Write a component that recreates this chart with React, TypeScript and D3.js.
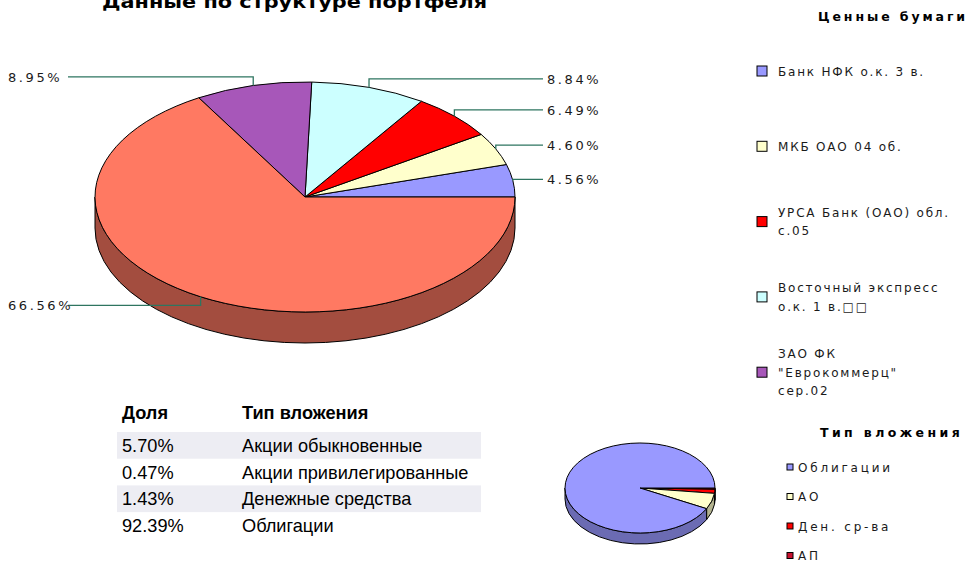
import React from "react";
import * as d3 from "d3";

// Ценные бумаги (main pie)
const secLegend = [
  ["Банк НФК о.к. 3 в."],
  ["МКБ ОАО 04 об."],
  ["УРСА Банк (ОАО) обл.", "с.05"],
  ["Восточный экспресс", "о.к. 1 в.□□"],
  ["ЗАО ФК", "\"Еврокоммерц\"", "сер.02"],
];
const secShares = [4.56, 4.6, 6.49, 8.84, 8.95, 66.56];
const secColors = ["#9999ff", "#ffffcc", "#ff0000", "#ccffff", "#a757b9", "#ff7962"];

// Тип вложения (small pie + legend)
const typeLegend = ["Облигации", "АО", "Ден. ср-ва", "АП"];
const typeShares = [92.39, 5.7, 1.43, 0.47];
const typeColors = ["#9999ff", "#ffffcc", "#ff0000", "#c8102e"];

// table
const tableHead = ["Доля", "Тип вложения"];
const tableTypes = ["Акции обыкновенные", "Акции привилегированные", "Денежные средства", "Облигации"];
const tableShares = [5.7, 0.47, 1.43, 92.39];

const W = 977;
const H = 572;
const LEADER = "#2e7560";

type Slice = { a0: number; a1: number; color: string; value: number };

const pt = (cx: number, cy: number, rx: number, ry: number, a: number) =>
  [cx + rx * Math.cos(a), cy + ry * Math.sin(a)];

const topPath = (cx: number, cy: number, rx: number, ry: number, s: Slice) => {
  const p0 = pt(cx, cy, rx, ry, s.a0);
  const p1 = pt(cx, cy, rx, ry, s.a1);
  const large = s.a1 - s.a0 > Math.PI ? 1 : 0;
  return `M${cx},${cy}L${p0[0]},${p0[1]}A${rx},${ry} 0 ${large} 1 ${p1[0]},${p1[1]}Z`;
};

// parts of a slice that show on the front rim (screen angles 0..PI)
const frontParts = (s: Slice) => {
  const out: [number, number][] = [];
  for (const k of [-2 * Math.PI, 0, 2 * Math.PI]) {
    const a = Math.max(s.a0 + k, 0);
    const b = Math.min(s.a1 + k, Math.PI);
    if (b > a) out.push([a, b]);
  }
  return out;
};

const sidePath = (cx: number, cy: number, rx: number, ry: number, depth: number, a: number, b: number) => {
  const p0 = pt(cx, cy, rx, ry, a);
  const p1 = pt(cx, cy, rx, ry, b);
  return `M${p0[0]},${p0[1]}A${rx},${ry} 0 0 1 ${p1[0]},${p1[1]}L${p1[0]},${p1[1] + depth}A${rx},${ry} 0 0 0 ${p0[0]},${p0[1] + depth}Z`;
};

const darker = (c: string, k: number) => d3.color(c)!.darker(k).formatHex();

const Pie3D = ({ cx, cy, rx, ry, depth, slices, dark }: {
  cx: number; cy: number; rx: number; ry: number; depth: number; slices: Slice[]; dark: number;
}) => (
  <g stroke="#000" strokeWidth={1}>
    {slices.map((s, i) =>
      frontParts(s).map(([a, b], j) => (
        <path key={`s${i}-${j}`} d={sidePath(cx, cy, rx, ry, depth, a, b)} fill={darker(s.color, dark)} />
      ))
    )}
    {slices.map((s, i) => (
      <path key={`t${i}`} d={topPath(cx, cy, rx, ry, s)} fill={s.color} />
    ))}
  </g>
);

export default function App() {
  const pie = d3.pie<number>().sort(null).value((d) => d);

  // main pie: counter-clockwise on screen from 3 o'clock
  const main = { cx: 305, cy: 197, rx: 210, ry: 115, depth: 31 };
  const mainSlices: Slice[] = pie(secShares).map((d, i) => ({
    a0: -d.endAngle,
    a1: -d.startAngle,
    color: secColors[i],
    value: d.data,
  }));

  // small pie: clockwise from 3 o'clock, last type first
  const small = { cx: 640, cy: 488, rx: 75, ry: 45, depth: 11 };
  const revShares = typeShares.slice().reverse();
  const revColors = typeColors.slice().reverse();
  const smallSlices: Slice[] = pie(revShares).map((d, i) => ({
    a0: d.startAngle,
    a1: d.endAngle,
    color: revColors[i],
    value: d.data,
  }));

  const labels = mainSlices.map((s, i) => {
    const m = (s.a0 + s.a1) / 2;
    const [px, py] = pt(main.cx, main.cy, main.rx, main.ry, m);
    const up = Math.sin(m) < 0;
    const ly = py + (up ? -9 : 10) * Math.abs(Math.sin(m));
    const right = Math.cos(m) > 0;
    const ex = right ? 543 : 68;
    return (
      <g key={`l${i}`}>
        <polyline points={`${px},${py} ${px},${ly} ${ex},${ly}`} fill="none" stroke={LEADER} strokeWidth={1.3} />
        <text x={right ? 547 : 8} y={ly + 5} fontSize={13} letterSpacing={2.6} fill="#1a1a1a">
          {s.value.toFixed(2)}%
        </text>
      </g>
    );
  });

  const rowH = 26.7;
  const rowY0 = 432;

  return (
    <svg width={W} height={H} style={{ position: "absolute", left: 0, top: 0, background: "#fff" }}
      fontFamily="DejaVu Sans">
      <defs>
        <clipPath id="legclip">
          <rect x={700} y={0} width={277} height={397} />
        </clipPath>
      </defs>

      <text x={102} y={8} fontSize={18} fontWeight="bold" fontFamily="DejaVu Sans" textLength={385}
        lengthAdjust="spacingAndGlyphs">
        Данные по структуре портфеля
      </text>

      <Pie3D {...main} slices={mainSlices} dark={1.25} />
      {labels}

      {/* legend: ценные бумаги */}
      <g clipPath="url(#legclip)">
        <text x={818} y={21} fontSize={12.5} fontWeight="bold" letterSpacing={2.9}>Ценные бумаги</text>
        {secLegend.map((lines, i) => {
          const cy = 71 + i * 75.3;
          const top = cy - ((lines.length - 1) * 18.5) / 2;
          return (
            <g key={`sl${i}`}>
              <rect x={757} y={cy - 5} width={10} height={10} fill={secColors[i]} stroke="#000" />
              {lines.map((t, j) => (
                <text key={j} x={778} y={top + j * 18.5 + 4.5} fontSize={12} letterSpacing={1.8} fill="#1a1a1a">
                  {t}
                </text>
              ))}
            </g>
          );
        })}
      </g>

      {/* table */}
      <g fontFamily="Liberation Sans, Arial" fontSize={18.2} fill="#000">
        {tableTypes.map((t, i) =>
          i % 2 === 0 ? (
            <rect key={`bg${i}`} x={117} y={rowY0 + i * rowH} width={364} height={rowH} fill="#ededf3" />
          ) : null
        )}
        <text x={122} y={419} fontWeight="bold">{tableHead[0]}</text>
        <text x={242} y={419} fontWeight="bold">{tableHead[1]}</text>
        {tableTypes.map((t, i) => (
          <g key={`r${i}`}>
            <text x={122} y={rowY0 + i * rowH + 20}>{tableShares[i].toFixed(2)}%</text>
            <text x={242} y={rowY0 + i * rowH + 20}>{t}</text>
          </g>
        ))}
      </g>

      <Pie3D {...small} slices={smallSlices} dark={1.0} />

      {/* legend: тип вложения */}
      <text x={820} y={437} fontSize={12.5} fontWeight="bold" letterSpacing={3.4}>Тип вложения</text>
      {typeLegend.map((t, i) => {
        const cy = 467 + i * 29.5;
        return (
          <g key={`tl${i}`}>
            <rect x={787} y={cy - 3} width={6} height={6} fill={typeColors[i]} stroke="#000" strokeWidth={1} />
            <text x={798} y={cy + 4.5} fontSize={12} letterSpacing={2.8} fill="#1a1a1a">{t}</text>
          </g>
        );
      })}
    </svg>
  );
}
